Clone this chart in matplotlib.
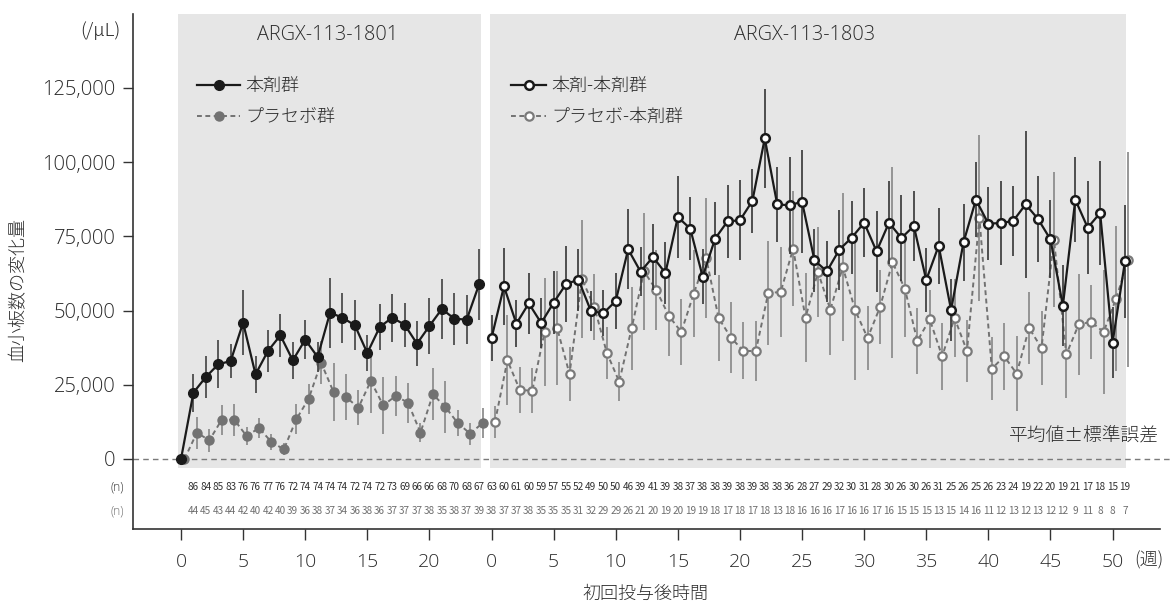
import numpy as np
import matplotlib
matplotlib.use("Agg")
import matplotlib.pyplot as plt
from matplotlib.lines import Line2D

plt.rcParams['font.family'] = ['Open Sans', 'Noto Sans CJK JP', 'DejaVu Sans']
plt.rcParams['font.weight'] = 'light'

# ---- data: platelet count change from baseline (/uL), mean and SEM ----
weeks_1801 = np.arange(0, 25)
drug_1801 = [0, 22350, 27630, 31890, 33020, 45930, 28520, 36390, 41660, 33240,
             40200, 34360, 49300, 47620, 45030, 35710, 44470, 47620, 45260, 38860,
             44810, 50540, 47280, 46940, 58850]
drug_1801_sem = [0, 6400, 7100, 8100, 5800, 10900, 6200, 7000, 7300, 6200,
                 6500, 5100, 11800, 8400, 8400, 6200, 7900, 8100, 7400, 7500,
                 9400, 10000, 8800, 8200, 12000]
placebo_1801 = [0, 8870, 6290, 13250, 13250, 7750, 10440, 5730, 3260, 13360,
                20330, 32450, 22570, 20890, 17290, 26280, 18080, 21220, 18980, 8870,
                21790, 17520, 12130, 8530, 12130]
placebo_1801_sem = [0, 5400, 3900, 5100, 5400, 3100, 3400, 2800, 2000, 5100,
                    5100, 7300, 9900, 7600, 6000, 10700, 9500, 6600, 6700, 3100,
                    8800, 8900, 4300, 3700, 5100]

weeks_1803 = np.arange(0, 52)
drug_drug_1803 = [40760, 58170, 45590, 52440, 45820, 52670, 58960, 60420, 49860, 49080,
                  53230, 70640, 63110, 68050, 62660, 81530, 77600, 61430, 74230, 80070,
                  80410, 86920, 108030, 85800, 85460, 86700, 66930, 63220, 70520, 74570,
                  79620, 69960, 79620, 74450, 78500, 60310, 71870, 50200, 73000, 87370,
                  79280, 79510, 80180, 85800, 80860, 74000, 51660, 87370, 77940, 82880,
                  39190, 66590]
drug_drug_1803_sem = [7900, 12900, 7900, 10200, 8500, 10600, 12700, 10400, 6700, 7800,
                      9400, 13500, 8300, 11200, 10400, 13800, 10700, 9300, 12400, 12400,
                      13500, 10900, 16700, 12600, 16300, 17300, 10700, 10200, 13500, 12200,
                      11700, 13600, 14000, 14400, 11800, 10800, 12800, 10600, 13000, 12700,
                      12400, 14000, 11800, 24700, 14500, 13100, 13600, 14400, 15600, 17500,
                      12000, 19100]
placebo_drug_1803 = [12470, 33240, 23250, 23020, 42900, 44130, 28640, 60640, 51210, 35820,
                     26050, 44020, 63220, 56820, 48180, 42790, 55700, 67830, 47500, 40880,
                     36390, 36390, 55930, 56260, 70860, 47620, 63000, 50310, 64690, 50090,
                     40760, 51210, 66260, 57390, 39750, 47050, 34590, 47500, 36390, 81190,
                     30430, 34590, 28750, 44130, 37400, 73890, 35260, 45370, 46160, 42790,
                     54020, 67150]
placebo_drug_1803_sem = [5400, 15200, 7900, 7500, 18200, 19300, 9000, 20000, 11200, 8800,
                         6500, 13900, 19700, 13500, 13500, 11200, 14600, 20200, 14600, 12000,
                         9600, 10100, 17400, 15200, 19300, 14900, 15200, 15200, 24900, 23500,
                         10700, 12600, 32200, 16300, 11000, 9800, 11200, 13100, 10300, 27900,
                         10700, 11200, 12600, 12000, 12400, 22700, 14600, 17100, 12600, 21000,
                         24400, 36200]

# number of patients at each visit
n_drug_1801 = [86, 84, 85, 83, 76, 76, 77, 76, 72, 74, 74, 74, 74, 72, 74, 72, 73, 69,
               66, 66, 68, 70, 68, 67]
n_placebo_1801 = [44, 45, 43, 44, 42, 40, 42, 40, 39, 36, 38, 37, 34, 36, 38, 36, 37, 37,
                  37, 38, 35, 38, 37, 39]
n_drug_1803 = [63, 60, 61, 60, 59, 57, 55, 52, 49, 50, 50, 46, 39, 41, 39, 38, 37, 38,
               38, 39, 38, 39, 38, 38, 36, 28, 27, 29, 32, 30, 31, 28, 30, 26, 30, 26,
               31, 25, 26, 25, 26, 23, 24, 19, 22, 20, 19, 21, 17, 18, 15, 19]
n_placebo_1803 = [38, 37, 37, 38, 35, 35, 35, 31, 32, 29, 29, 26, 21, 20, 19, 20, 19, 19,
                  18, 17, 18, 17, 18, 13, 18, 16, 16, 16, 17, 16, 16, 17, 16, 15, 15, 15,
                  13, 15, 14, 16, 11, 12, 13, 12, 13, 12, 12, 9, 11, 8, 8, 7]

study_names = ['ARGX-113-1801', 'ARGX-113-1803']
legend_1801 = ['本剤群', 'プラセボ群']
legend_1803 = ['本剤-本剤群', 'プラセボ-本剤群']
yticks = [0, 25000, 50000, 75000, 100000, 125000]
ytick_labels = ['0', '25,000', '50,000', '75,000', '100,000', '125,000']
xtick_weeks_1801 = [0, 5, 10, 15, 20]
xtick_weeks_1803 = [0, 5, 10, 15, 20, 25, 30, 35, 40, 45, 50]

# ---- layout ----
OFFSET = 25          # second study drawn to the right of the first
DODGE = 0.28         # small horizontal shift of the placebo-origin series
DARK = '#1a1a1a'
GREY = '#727272'
TXT = '#2b2b2b'
JP = ['Noto Sans CJK JP', 'DejaVu Sans']
NUM = ['Liberation Sans Narrow', 'Noto Sans CJK JP', 'DejaVu Sans']

W, H = 1171, 608
fig = plt.figure(figsize=(W / 100, H / 100), dpi=100)
ax = fig.add_axes([133 / W, (H - 529) / H, (1160 - 133) / W, (529 - 14) / H])
ax.set_xlim(-3.865, 78.82)
ax.set_ylim(-23585, 149930)

# panel backgrounds
yb = (529 - 467.5) / 515
ax.axvspan(-0.24, 24.15, ymin=yb, ymax=1.0, color='#e6e6e6', lw=0, zorder=0)
ax.axvspan(OFFSET - 0.16, OFFSET + 51.1, ymin=yb, ymax=1.0, color='#e6e6e6', lw=0, zorder=0)

# zero reference
ax.axhline(0, xmin=0, xmax=1.011, color='#7a7a7a', lw=1.0, ls=(0, (4, 3)), zorder=1,
           clip_on=False)

eb_kw = dict(elinewidth=1.25, capsize=0, ls='none', marker='none')
style_drug = dict(color=DARK, lw=1.6, marker='o', ms=7, mfc=DARK, mec=DARK)
style_pbo = dict(color=GREY, lw=1.4, ls=(0, (2.5, 1.8)), marker='o', ms=6.5, mfc=GREY, mec=GREY)
style_dd = dict(color=DARK, lw=1.6, marker='o', ms=6.2, mfc='white', mec=DARK, mew=1.8)
style_pd = dict(color=GREY, lw=1.4, ls=(0, (2.5, 1.8)), marker='o', ms=6.0, mfc='white',
                mec='#7a7a7a', mew=1.6)

# study 1801
x1 = weeks_1801
ax.errorbar(x1 + DODGE, placebo_1801, yerr=placebo_1801_sem, ecolor='#8a8a8a', zorder=2, **eb_kw)
ax.plot(x1 + DODGE, placebo_1801, zorder=3, **style_pbo)
ax.errorbar(x1, drug_1801, yerr=drug_1801_sem, ecolor='#474747', zorder=4, **eb_kw)
ax.plot(x1, drug_1801, zorder=5, **style_drug)

# study 1803
x2 = weeks_1803 + OFFSET
ax.errorbar(x2 + DODGE, placebo_drug_1803, yerr=placebo_drug_1803_sem, ecolor='#8a8a8a',
            zorder=2, **eb_kw)
ax.plot(x2 + DODGE, placebo_drug_1803, zorder=3, **style_pd)
ax.errorbar(x2, drug_drug_1803, yerr=drug_drug_1803_sem, ecolor='#3c3c3c', zorder=4, **eb_kw)
ax.plot(x2, drug_drug_1803, zorder=5, **style_dd)

# panel titles
ax.text(11.8, 143000, study_names[0], ha='center', va='center', fontsize=14.3, color=TXT)
ax.text(OFFSET + 25.2, 143000, study_names[1], ha='center', va='center', fontsize=14.3,
        color=TXT)

# legends
leg_kw = dict(loc='upper left', frameon=False, borderpad=0, borderaxespad=0,
              handletextpad=0.3, labelspacing=0.72, labelcolor=TXT,
              prop=dict(family=JP, size=13))
lg1 = ax.legend([Line2D([], [], **style_drug), Line2D([], [], **style_pbo)], legend_1801,
                bbox_to_anchor=((197 - 133) / 1027, (529 - 77) / 515), handlelength=2.4,
                **leg_kw)
ax.add_artist(lg1)
ax.legend([Line2D([], [], **style_dd), Line2D([], [], **style_pd)], legend_1803,
          bbox_to_anchor=((511 - 133) / 1027, (529 - 77) / 515), handlelength=1.95, **leg_kw)

ax.text(OFFSET + 53.7, 7800, '平均値±標準誤差', ha='right', va='center', fontsize=13.5,
        color=TXT, family=JP, clip_on=False)

# patient counts below the zero line
row1_y, row2_y = -9430, -17520
n_kw = dict(ha='center', va='center', fontsize=7.2, family=NUM, fontweight='normal')
for i, n in enumerate(n_drug_1801):
    ax.text(i + 1, row1_y, str(n), color='#303030', **n_kw)
for i, n in enumerate(n_placebo_1801):
    ax.text(i + 1, row2_y, str(n), color='#6e6e6e', **n_kw)
for i, n in enumerate(n_drug_1803):
    ax.text(OFFSET + i, row1_y, str(n), color='#303030', **n_kw)
for i, n in enumerate(n_placebo_1803):
    ax.text(OFFSET + i, row2_y, str(n), color='#6e6e6e', **n_kw)
ax.text(-4.6, row1_y, '(n)', ha='right', va='center', fontsize=8.5, color='#333333')
ax.text(-4.6, row2_y, '(n)', ha='right', va='center', fontsize=8.5, color='#6e6e6e')

# axes styling
for s in ('top', 'right'):
    ax.spines[s].set_visible(False)
for s in ('left', 'bottom'):
    ax.spines[s].set_color('#333333')
    ax.spines[s].set_linewidth(1.2)

ax.set_yticks(yticks)
ax.set_yticklabels(ytick_labels)
xt = list(xtick_weeks_1801) + [OFFSET + w for w in xtick_weeks_1803]
xl = [str(w) for w in xtick_weeks_1801] + [str(w) for w in xtick_weeks_1803]
ax.set_xticks(xt)
ax.set_xticklabels(xl)
ax.tick_params(axis='y', length=7.5, width=1.0, color='#333333', labelsize=14.5,
               labelcolor=TXT, pad=5)
ax.tick_params(axis='x', length=8, width=1.0, color='#333333', labelsize=14,
               labelcolor=TXT, pad=9)

ax.text(OFFSET + 52.9, -34000, '(週)', ha='center', va='center', fontsize=13, color=TXT,
        family=JP, clip_on=False)
fig.text(120 / W, 1 - 31 / H, '(/μL)', ha='right', va='center', fontsize=13.5, color=TXT,
         family=JP)
fig.text(18 / W, 1 - 290 / H, '血小板数の変化量', ha='center', va='center', rotation=90,
         fontsize=13, color=TXT, family=JP)
fig.text(645 / W, 1 - 594 / H, '初回投与後時間', ha='center', va='center', fontsize=13,
         color=TXT, family=JP)

fig.savefig('out.png', dpi=100)
